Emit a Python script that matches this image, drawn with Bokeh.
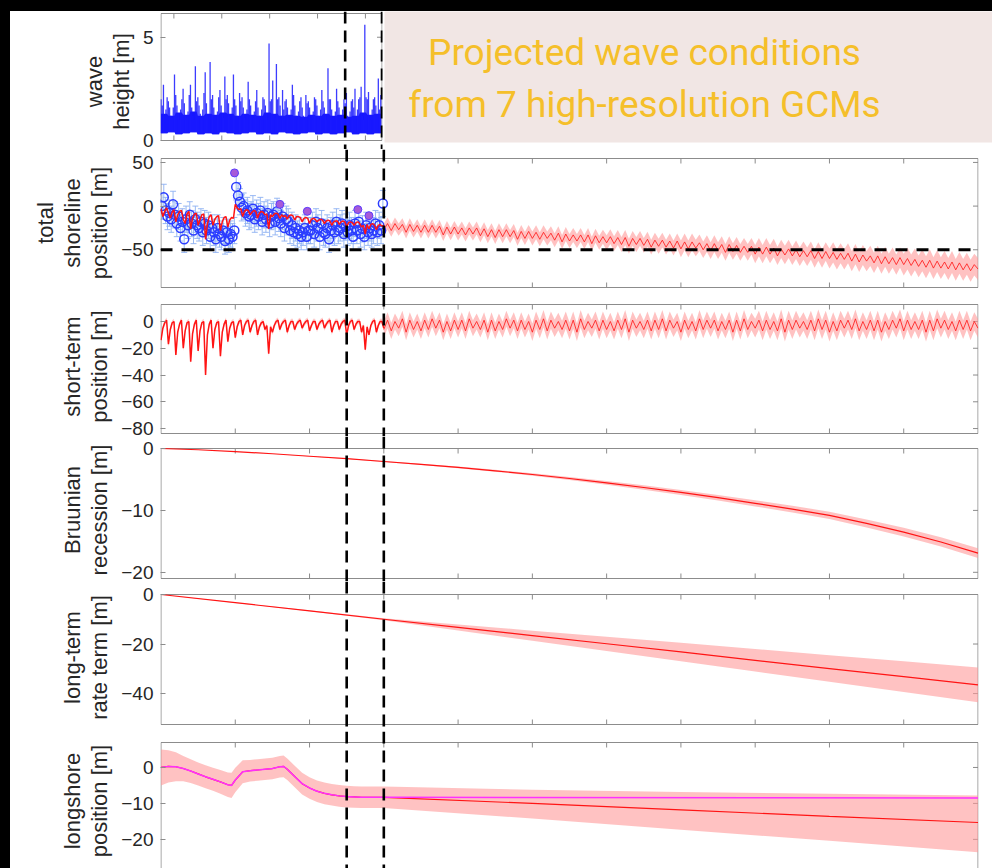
import numpy as np
from bokeh.plotting import figure
from bokeh.models import (Range1d, LinearAxis, FixedTicker, Span, Label, Whisker, TeeHead,
                          ColumnDataSource, Spacer)
from bokeh.layouts import column, row
from bokeh.embed import file_html
from bokeh.resources import INLINE

# ---------------- data ----------------
YEAR_TICKS = [2000, 2010, 2020, 2030, 2040, 2050, 2060, 2070, 2080, 2090]
HS_TICKS_X = [1991.75, 1998.25, 2004.75, 2011.25, 2017.75]
EVENT_YEARS = [2015, 2020]
THRESHOLD = -50

# wave height [m]: maximum in six bins per year (1990-2019)
hs_max = [
    2.0, 1.7, 2.7, 1.2, 1.5, 2.1,   1.9, 1.6, 1.2, 1.1, 1.6, 3.2,
    2.2, 1.7, 1.3, 1.0, 1.5, 2.0,   2.5, 1.8, 1.2, 1.1, 1.4, 2.2,
    2.7, 1.6, 1.2, 1.0, 3.6, 1.9,   2.1, 1.7, 1.3, 1.1, 1.5, 2.3,
    3.3, 1.8, 1.2, 1.0, 3.8, 2.0,   2.2, 1.6, 1.2, 1.0, 1.4, 2.1,
    2.45, 1.7, 1.3, 1.1, 3.1, 2.0,  2.2, 1.8, 1.2, 1.0, 1.6, 3.2,
    2.0, 1.7, 1.2, 1.0, 2.3, 1.9,   2.1, 1.6, 1.1, 1.0, 1.5, 2.85,
    2.0, 1.7, 1.2, 1.1, 1.4, 1.9,   2.45, 1.6, 1.2, 1.0, 1.5, 2.1,
    2.0, 1.7, 1.3, 1.0, 4.7, 1.9,   2.0, 2.9, 1.2, 1.1, 3.7, 2.0,
    2.1, 1.7, 1.2, 2.45, 1.5, 1.9,  2.0, 1.6, 1.1, 1.0, 1.5, 2.7,
    2.2, 1.7, 1.2, 1.0, 1.4, 1.9,   2.1, 1.6, 1.2, 1.0, 2.2, 1.8,
    1.9, 1.6, 1.1, 1.0, 1.4, 2.1,   2.0, 1.7, 1.2, 1.0, 1.5, 2.45,
    1.9, 1.6, 1.2, 1.0, 3.5, 2.0,   2.0, 1.5, 1.1, 1.0, 1.4, 2.5,
    1.9, 1.6, 1.2, 1.0, 1.5, 2.0,   1.8, 2.3, 1.2, 1.0, 1.4, 1.9,
    2.0, 1.6, 2.5, 1.0, 1.5, 2.0,   2.1, 2.6, 1.2, 1.0, 5.6, 2.1,
    2.0, 2.35, 1.2, 1.0, 1.5, 2.0,  2.1, 1.7, 1.2, 3.0, 1.5, 2.2,
]
# yearly minimum and dense-core level of wave height [m]
hs_min = [0.35, 0.4, 0.3, 0.35, 0.4, 0.3, 0.35, 0.3, 0.4, 0.35,
          0.3, 0.35, 0.4, 0.3, 0.35, 0.3, 0.4, 0.35, 0.3, 0.35,
          0.4, 0.3, 0.35, 0.3, 0.35, 0.4, 0.3, 0.35, 0.3, 0.35]
hs_core = [1.3, 1.2, 1.35, 1.25, 1.4, 1.2, 1.3, 1.25, 1.35, 1.3,
           1.2, 1.3, 1.25, 1.2, 1.35, 1.3, 1.2, 1.25, 1.2, 1.15,
           1.25, 1.2, 1.3, 1.2, 1.25, 1.15, 1.2, 1.35, 1.25, 1.3]

# total shoreline position: model hindcast, quarterly 1990.00 - 2020.00 [m]
tot_hind = [
    -3, -12, -6, -2,    -8, -14, -7, -4,    -18, -10, -6, -5,   -15, -20, -9, -6,
    -26, -14, -9, -8,   -22, -16, -10, -9,  -38, -20, -12, -10, -22, -15, -12, -11,
    -28, -18, -13, -12, -24, -16, -13, -14, 2, -2, -4, -3,      -12, -6, -4, -5,
    -10, -7, -5, -6,    -14, -8, -6, -7,    -10, -9, -26, -10,  -12, -9, -8, -9,
    -14, -10, -12, -11, -15, -11, -10, -11, -16, -12, -12, -13, -18, -14, -13, -14,
    -20, -15, -14, -15, -18, -16, -15, -16, -20, -17, -16, -17, -22, -18, -17, -17,
    -21, -18, -17, -18, -24, -19, -18, -19, -22, -19, -18, -20, -24, -22, -32, -21,
    -26, -21, -20, -22, -27, -22, -21, -23, -22,
]
# observed shoreline positions (quarterly, 1990.125 - 2019.875) [m]
obs = [
    0, 10, -5, -12,     -8, -15, 2, -10,    -20, -12, -25, -18,  -38, -15, -22, -10,
    -20, -28, -15, -22, -25, -18, -30, -20, -28, -22, -35, -25,  -30, -38, -25, -32,
    -35, -28, -40, -30, -38, -32, -35, -28, 22, 12, 5, -2,       0, -8, -5, -12,
    -10, -3, -15, -8,   -12, -5, -18, -10,  -15, -8, -20, -12,   -10, -18, -6, -14,
    -20, -12, -25, -15, -18, -28, -22, -30, -25, -32, -28, -35,  -30, -25, -35, -28,
    -28, -22, -32, -18, -25, -35, -20, -30, -32, -25, -38, -28,  -22, -30, -18, -28,
    -25, -20, -32, -24, -30, -22, -28, -35, -20, -28, -18, -32,  -26, -35, -22, -30,
    -25, -32, -28, -20, -30, -22, -28, 3,
]
obs_err = 15
flag_t = [1999.9, 2006.0, 2009.7, 2016.5, 2018.0]
flag_v = [38, 2, -6, -4, -11]

# total shoreline projection: winter (Y.0) and summer (Y.5) values 2020-2099, end 2100
tot_proj_winter = [
    -27, -28, -27, -30, -29, -30, -30, -30, -33, -32,
    -32, -33, -32, -34, -35, -36, -35, -35, -38, -37,
    -37, -38, -37, -39, -41, -40, -40, -41, -43, -42,
    -42, -43, -44, -46, -44, -45, -47, -46, -47, -48,
    -49, -49, -48, -50, -51, -51, -53, -52, -53, -53,
    -55, -55, -55, -57, -56, -57, -58, -58, -60, -60,
    -60, -61, -61, -63, -64, -63, -65, -66, -66, -67,
    -67, -68, -69, -70, -71, -71, -72, -73, -73, -74,
]
tot_proj_summer = [
    -20, -20, -21, -21, -22, -22, -22, -23, -24, -24,
    -25, -25, -25, -26, -27, -27, -27, -28, -29, -29,
    -30, -30, -31, -31, -32, -33, -33, -33, -34, -35,
    -35, -36, -36, -37, -37, -38, -39, -39, -40, -40,
    -41, -41, -42, -43, -43, -44, -44, -45, -46, -46,
    -47, -47, -48, -49, -49, -50, -51, -51, -52, -52,
    -53, -54, -54, -55, -56, -57, -57, -58, -59, -59,
    -60, -61, -62, -62, -63, -64, -64, -65, -66, -67,
]
tot_proj_end = -72
tot_spread = [7, 7.5, 8, 8.5, 9.5, 10.5, 11.5, 12.5]   # per decade 2020s..2090s

# short-term position: hindcast quarterly 1990.00-2020.00
st_hind = [
    -14, -5, -1, 1,  -17, -6, -1, 0,  -25, -8, -2, 1,  -20, -7, -1, 0,
    -30, -9, -2, 1,  -22, -7, -1, 0,  -40, -10, -2, 1, -20, -6, -1, 0,
    -26, -8, -2, 1,  -15, -5, -1, 0,  -12, -4, 0, 1,   -10, -3, 0, 1,
    -8, -3, 0, 1,    -10, -4, -1, 0,  -6, -3, -24, -4, -8, -3, 0, 1,
    -6, -2, 0, 1,    -8, -3, 0, 0,    -6, -2, 0, 1,    -5, -2, 0, 1,
    -7, -3, 0, 0,    -6, -2, 0, 1,    -5, -2, 0, 1,    -8, -3, 0, 0,
    -6, -2, 0, 1,    -10, -3, 0, 1,   -6, -2, 0, 0,    -8, -3, -21, -4,
    -10, -3, 0, 1,   -8, -3, 0, 0,    -5,
]
st_hind_spread = 2
st_proj_winter = [
    -6, -7, -5, -8, -6, -7, -6, -5, -8, -7,
    -6, -7, -5, -6, -8, -7, -6, -5, -7, -6,
    -8, -6, -7, -5, -6, -7, -8, -6, -5, -7,
    -6, -7, -6, -8, -5, -6, -7, -6, -7, -5,
    -8, -6, -7, -6, -5, -7, -6, -8, -7, -6,
    -5, -7, -6, -7, -8, -6, -5, -6, -7, -6,
    -8, -7, -5, -6, -7, -6, -7, -8, -6, -5,
    -7, -6, -6, -8, -7, -5, -6, -7, -6, -7,
]
st_proj_summer = [
    1, 0, 2, 1, 0, 1, 2, 1, 0, 1,
    1, 2, 0, 1, 1, 0, 2, 1, 1, 0,
    1, 2, 1, 0, 1, 1, 2, 0, 1, 1,
    0, 1, 2, 1, 0, 1, 1, 2, 1, 0,
    1, 0, 2, 1, 1, 0, 1, 1, 2, 0,
    1, 1, 0, 2, 1, 1, 0, 1, 2, 1,
    0, 1, 1, 2, 0, 1, 1, 0, 1, 2,
    1, 0, 1, 1, 2, 1, 0, 1, 1, 0,
]
st_proj_end = -5
st_spread = [6, 6, 6.5, 6.5, 6.5, 7, 7, 7]

# Bruunian recession (every 5 years 1990-2100)
bruun = [0, -0.2, -0.5, -0.85, -1.25, -1.65, -2.1, -2.55, -3.05, -3.6, -4.2, -4.85,
         -5.55, -6.3, -7.1, -7.95, -8.85, -9.8, -10.8, -12.1, -13.5, -15.1, -16.9]
bruun_spread = [0, 0, 0, 0, 0.05, 0.05, 0.1, 0.1, 0.15, 0.15, 0.2, 0.25,
                0.3, 0.35, 0.4, 0.45, 0.5, 0.55, 0.6, 0.65, 0.7, 0.75, 0.8]

# long-term rate term (every 10 years 1990-2100)
lt = [0, -3.3, -6.6, -10.0, -13.3, -16.6, -19.9, -23.2, -26.6, -29.9, -33.2, -36.5]
lt_hi = [0, -3.2, -6.4, -9.6, -12.1, -14.6, -17.1, -19.5, -22.0, -24.5, -27.0, -29.5]
lt_lo = [0, -3.4, -6.8, -10.4, -14.5, -18.7, -22.8, -27.0, -31.1, -35.2, -39.4, -43.5]

# longshore position
ls_t = [1990, 1991, 1992, 1993, 1994, 1995, 1996, 1997, 1998, 1999, 1999.5, 2000, 2001,
        2002, 2003, 2004, 2005, 2006, 2006.5, 2007, 2008, 2009, 2010, 2011, 2012, 2013,
        2014, 2015, 2016, 2017, 2018, 2019, 2020]
ls = [0, 0.3, 0.2, -0.3, -1.0, -1.8, -2.6, -3.3, -4.0, -4.8, -5.0, -3.5, -1.2,
      -0.9, -0.7, -0.5, -0.3, 0.2, 0.3, -0.5, -2.5, -4.5, -5.7, -6.6, -7.2, -7.6,
      -7.9, -8.1, -8.2, -8.3, -8.3, -8.3, -8.3]
ls_spread = [5, 4.5, 4, 3.5, 3.3, 3.2, 3.2, 3.2, 3.3, 3.4, 3.5, 3.4, 3.2,
             3, 3, 3, 3, 3, 3, 3, 3, 3, 3, 3, 3, 3,
             3, 3, 3, 3, 3, 3, 3]
ls_proj_t = [2020, 2040, 2060, 2080, 2100]
ls_proj = [-8.3, -10.0, -11.8, -13.6, -15.3]
ls_proj_hi = [-5.3, -6.2, -6.8, -7.3, -7.8]
ls_proj_lo = [-11.3, -14.2, -17.3, -20.4, -23.6]
ls_fixed_t = [2020, 2100]
ls_fixed = [-8.3, -8.5]

TITLE_LINES = ["Projected wave conditions", "from 7 high-resolution GCMs"]

# ---------------- derived tables ----------------
def interleave(a, b, end):
    out = []
    for u, v in zip(a, b):
        out += [u, v]
    return out + [end]

t_hs = 1990 + np.arange(len(hs_max)) / 6.0
hs_low = np.repeat(hs_min, 6)
hs_mid = np.repeat(hs_core, 6)
t_q = 1990 + np.arange(len(tot_hind)) * 0.25
t_obs = 1990.125 + np.arange(len(obs)) * 0.25
t_proj = 2020 + np.arange(161) * 0.5
dec = np.minimum(((t_proj - 2020) // 10).astype(int), 7)
tot_proj = np.array(interleave(tot_proj_winter, tot_proj_summer, tot_proj_end), float)
st_proj = np.array(interleave(st_proj_winter, st_proj_summer, st_proj_end), float)
tot_sp = np.array(tot_spread)[dec]
st_sp = np.array(st_spread)[dec]
t5 = 1990 + np.arange(len(bruun)) * 5
t10 = 1990 + np.arange(len(lt)) * 10

# ---------------- styling ----------------
AX = "#8c8c8c"
TXT = "#262626"
FONT = "Liberation Sans"
RED = "#ff1414"
PINK = "#ff9a9a"
MAG = "#ff30ff"
OV = 2   # each lower panel overlaps the one above by this many pixels


def panel(x0, x1, fw, fh, pad_t, pad_b, v_t, v_b, yticks, label, xticks, rborder,
          bottom_edge=True, overlap=0):
    fh = fh + overlap
    pad_t = pad_t + overlap
    px = (fh - pad_t - pad_b) / (v_t - v_b)
    dx = 0.5 * (x1 - x0) / fw
    p = figure(frame_width=fw, frame_height=fh, title=None,
               x_range=Range1d(x0 - dx, x1 + dx),
               y_range=Range1d(v_b - pad_b / px, v_t + pad_t / px),
               x_axis_location=None, y_axis_location=None,
               toolbar_location=None, output_backend="svg",
               min_border_left=150, min_border_right=rborder,
               min_border_top=0, min_border_bottom=0,
               background_fill_color="white", border_fill_color="white",
               outline_line_color=None, margin=(-overlap, 0, 0, 0),
               styles={"background-color": "white"})
    p.grid.visible = False
    ax = LinearAxis(ticker=FixedTicker(ticks=yticks), axis_label=label,
                    axis_line_color=None, major_tick_in=5, major_tick_out=0,
                    major_tick_line_color=AX, minor_tick_line_color=None,
                    major_label_text_font_size="19px", major_label_text_color=TXT,
                    major_label_text_font=FONT, major_label_standoff=7,
                    axis_label_text_font_size="22px", axis_label_text_font=FONT,
                    axis_label_text_font_style="normal", axis_label_text_color=TXT,
                    axis_label_text_line_height=1.08, axis_label_standoff=6)
    p.add_layout(ax, "left")
    ex0, ey0, ex1, ey1 = [x0, x0, x1], [v_t, v_b, v_b], [x1, x0, x1], [v_t, v_t, v_t]
    if bottom_edge:
        ex0, ey0, ex1, ey1 = ex0 + [x0], ey0 + [v_b], ex1 + [x1], ey1 + [v_b]
    p.segment(x0=ex0, y0=ey0, x1=ex1, y1=ey1, line_color=AX, line_width=1)
    p.ray(x=xticks, y=[v_t] * len(xticks), length=5, length_units="screen",
          angle=-np.pi / 2, line_color=AX)
    if bottom_edge:
        p.ray(x=xticks, y=[v_b] * len(xticks), length=5, length_units="screen",
              angle=np.pi / 2, line_color=AX)
    p.ray(x=[x1] * len(yticks), y=yticks, length=5, length_units="screen",
          angle=np.pi, line_color=AX)
    return p


def add_events(p):
    for yr in EVENT_YEARS:
        p.add_layout(Span(location=yr, dimension="height", line_color="black",
                          line_width=2.6, line_dash="12 7"))


# panel 1: wave height
p1 = panel(1990, 2020, 222, 140, 2, 11, 6.15, 0, [0, 5], "wave\nheight [m]", HS_TICKS_X, 2)
p1.varea(x=t_hs, y1=hs_low, y2=hs_mid, fill_color="#0a0aff", fill_alpha=0.95)
p1.segment(x0=t_hs, y0=hs_low, x1=t_hs, y1=hs_max, line_color="#1a1aff", line_width=1.3,
           line_alpha=0.85)
add_events(p1)

# title box
pt = figure(frame_width=610, frame_height=131, title=None, x_range=Range1d(0, 610),
            y_range=Range1d(0, 131), x_axis_location=None, y_axis_location=None,
            toolbar_location=None, output_backend="svg", min_border_left=0,
            min_border_right=0, min_border_top=0, min_border_bottom=9,
            background_fill_color="#f1e6e4", border_fill_color="white",
            outline_line_color=None, styles={"background-color": "white"})
pt.grid.visible = False
for txt, yy in zip(TITLE_LINES, [90, 38]):
    pt.add_layout(Label(x=260, y=yy, text=txt, text_align="center", text_baseline="middle",
                        text_font_size="37px", text_color="#f5bf2a",
                        text_font="Roboto"))

# panel 2: total shoreline position
p2 = panel(1990, 2100, 818, 145, 7, 9, 54.5, -93.2, [-50, 0, 50],
           "total\nshoreline\nposition [m]", YEAR_TICKS, 16, overlap=OV)
p2.varea(x=t_proj, y1=tot_proj - tot_sp, y2=tot_proj + tot_sp, fill_color=PINK, fill_alpha=0.6)
p2.line(t_proj, tot_proj, line_color=RED, line_width=1, line_alpha=0.8)
src = ColumnDataSource(dict(t=t_obs, lo=np.array(obs) - obs_err, hi=np.array(obs) + obs_err))
p2.add_layout(Whisker(source=src, base="t", lower="lo", upper="hi", line_color="#8db0f2",
                      line_alpha=0.9, line_width=1,
                      lower_head=TeeHead(size=6, line_color="#8db0f2", line_alpha=0.9),
                      upper_head=TeeHead(size=6, line_color="#8db0f2", line_alpha=0.9)))
p2.scatter(t_obs, obs, marker="circle", size=9, fill_color=None, line_color="#2b3dff", line_width=1.5)
p2.scatter(flag_t, flag_v, marker="circle", size=8, fill_color="#a65ad8", line_color="#5a3cff", line_width=1)
p2.line(t_q, tot_hind, line_color=RED, line_width=1.5)
p2.add_layout(Span(location=THRESHOLD, dimension="width", line_color="black",
                   line_width=3, line_dash="12 9"))
add_events(p2)

# panel 3: short-term position
p3 = panel(1990, 2100, 818, 142, 8, 5, 12.7, -83.7, [-80, -60, -40, -20, 0],
           "short-term\nposition [m]", YEAR_TICKS, 16, overlap=OV)
st_h = np.array(st_hind, float)
p3.varea(x=t_q, y1=st_h - st_hind_spread, y2=st_h + st_hind_spread, fill_color=PINK, fill_alpha=0.5)
p3.varea(x=t_proj, y1=st_proj - st_sp, y2=st_proj + st_sp, fill_color=PINK, fill_alpha=0.6)
p3.line(t_q, st_hind, line_color=RED, line_width=1.5)
p3.line(t_proj, st_proj, line_color=RED, line_width=1, line_alpha=0.8)
add_events(p3)

# panel 4: Bruunian recession
p4 = panel(1990, 2100, 818, 145, 10, 5, 0, -21.0, [-20, -10, 0],
           "Bruunian\nrecession [m]", YEAR_TICKS, 16, overlap=OV)
b = np.array(bruun)
bs = np.array(bruun_spread)
p4.varea(x=t5, y1=b - bs, y2=b + bs, fill_color=PINK, fill_alpha=0.6)
p4.line(t5, bruun, line_color=RED, line_width=1.2)
add_events(p4)

# panel 5: long-term rate term
p5 = panel(1990, 2100, 818, 150, 11, 9, 0, -52.5, [-40, -20, 0],
           "long-term\nrate term [m]", YEAR_TICKS, 16, overlap=OV)
p5.varea(x=t10, y1=lt_lo, y2=lt_hi, fill_color=PINK, fill_alpha=0.6)
p5.line(t10, lt, line_color=RED, line_width=1.2)
add_events(p5)

# panel 6: longshore position (extends slightly below the window, like the cut-off original)
p6 = panel(1990, 2100, 818, 137, 9, 0, 6.94, -28.65, [-20, -10, 0],
           "longshore\nposition [m]", YEAR_TICKS, 16, bottom_edge=False, overlap=OV)
lsa = np.array(ls)
ls_sp = np.array(ls_spread)
p6.varea(x=list(ls_t) + ls_proj_t[1:],
         y1=list(lsa - ls_sp) + ls_proj_lo[1:],
         y2=list(lsa + ls_sp) + ls_proj_hi[1:], fill_color=PINK, fill_alpha=0.6)
p6.line(ls_t + ls_proj_t[1:], ls + ls_proj[1:], line_color=RED, line_width=1.2)
p6.line(ls_t + ls_fixed_t[1:], ls + ls_fixed[1:], line_color=MAG, line_width=1.5)
add_events(p6)

top_strip = Spacer(width=984, height=11, styles={"background-color": "black"})
left_strip = Spacer(width=10, height=870, styles={"background-color": "black"})
top_row = row(p1, pt, styles={"background-color": "white"})
body = column(top_strip, top_row, p2, p3, p4, p5, p6, styles={"background-color": "white"})
layout = row(left_strip, body, styles={"background-color": "white"})

html = file_html(layout, INLINE, title="Shoreline projection")
html = html.replace("</head>",
                    "<style>html, body { margin: 0; padding: 0; background-color: #ffffff; "
                    "overflow: hidden; }</style></head>", 1)
open("out.html", "w").write(html)
